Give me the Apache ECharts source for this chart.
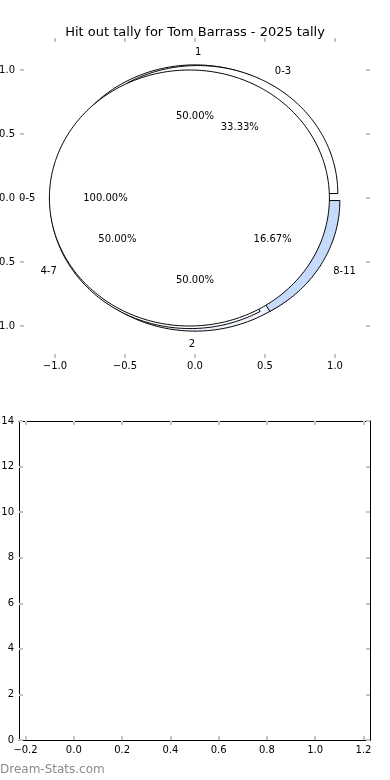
<!DOCTYPE html>
<html><head><meta charset="utf-8">
<script src="https://cdn.jsdelivr.net/npm/echarts@6/dist/echarts.min.js"></script>
<style>html,body{margin:0;padding:0;background:#fff}#c{width:390px;height:780px}</style>
</head><body><div id="c"></div>
<script>
// ---- data ----
const titleText = 'Hit out tally for Tom Barrass - 2025 tally';
const countLabels = ['1', '2'];
const countValues = [1, 1];
const seasonLabels = ['0-5'];
const seasonValues = [1];
const rangeLabels = ['0-3', '4-7', '8-11'];
const rangeValues = [2, 3, 1];
const pieTicks = [-1, -0.5, 0, 0.5, 1];
const barXTicks = [-0.2, 0, 0.2, 0.4, 0.6, 0.8, 1.0, 1.2];
const barYTicks = [0, 2, 4, 6, 8, 10, 12, 14];
const barValues = [];
const watermark = 'Dream-Stats.com';

// ---- style ----
const FONT = 'DejaVu Sans';
const EXPLODE = 0.04;
const RADIUS = 1;
const wedgeColors = { '8-11': '#c6dafc', '2': '#eef3fd' };
const TICK = '#c4c4c4';

// rings in drawing order
const rings = [
  { labels: countLabels, values: countValues },
  { labels: rangeLabels, values: rangeValues },
  { labels: seasonLabels, values: seasonValues }
];
const wedges = [];
rings.forEach((ring) => {
  const total = ring.values.reduce((a, b) => a + b, 0);
  let acc = 0;
  ring.values.forEach((v, wi) => {
    const t1 = 360 * acc / total; acc += v; const t2 = 360 * acc / total;
    wedges.push({ label: ring.labels[wi], value: v, t1: t1, t2: t2, pct: 100 * v / total });
  });
});

function renderWedge(params, api) {
  const w = wedges[params.dataIndex];
  const d2r = Math.PI / 180;
  const tm = (w.t1 + w.t2) / 2 * d2r;
  const cx = EXPLODE * Math.cos(tm), cy = EXPLODE * Math.sin(tm);
  const full = (w.t2 - w.t1) >= 360 - 1e-9;
  const pts = [];
  if (!full) pts.push(api.coord([cx, cy]));
  const n = Math.max(2, Math.ceil(w.t2 - w.t1));
  for (let k = 0; k <= n; k++) {
    const a = (w.t1 + (w.t2 - w.t1) * k / n) * d2r;
    pts.push(api.coord([cx + RADIUS * Math.cos(a), cy + RADIUS * Math.sin(a)]));
  }
  const lx = cx + 1.1 * RADIUS * Math.cos(tm), ly = cy + 1.1 * RADIUS * Math.sin(tm);
  const px = cx + 0.6 * RADIUS * Math.cos(tm), py = cy + 0.6 * RADIUS * Math.sin(tm);
  const lp = api.coord([lx, ly]), pp = api.coord([px, py]);
  return {
    type: 'group', children: [
      { type: 'polygon', shape: { points: pts }, z2: params.dataIndex,
        style: { fill: wedgeColors[w.label] || '#ffffff', stroke: '#000', lineWidth: 1 } },
      { type: 'text', x: lp[0], y: lp[1], z2: 100,
        style: { text: w.label, fill: '#000', fontSize: 10, fontFamily: FONT,
                 align: lx > 0 ? 'left' : 'right', verticalAlign: 'middle' } },
      { type: 'text', x: pp[0], y: pp[1], z2: 100,
        style: { text: w.pct.toFixed(2) + '%', fill: '#000', fontSize: 10, fontFamily: FONT,
                 align: 'center', verticalAlign: 'middle' } }
    ]
  };
}

function fmt1(v) { const s = Math.abs(v).toFixed(1); return (v < -1e-9 ? '\u2212' : '') + s; }
function fmt0(v) { return String(Math.round(v)); }

const tickStyle = (vals) => ({ show: true, inside: true, length: 4, lineStyle: { color: TICK, width: 2 }, customValues: vals });
const labelStyle = (vals, f, m) => ({ show: true, customValues: vals, formatter: f, margin: m, color: '#000', fontSize: 10, fontFamily: FONT });
const noLabel = { show: false };
const hiddenLine = { show: false, onZero: false };
const blackLine = { show: true, onZero: false, lineStyle: { color: '#000', width: 1 } };

const chart = echarts.init(document.getElementById('c'), null, { renderer: 'canvas' });
chart.setOption({
  animation: false,
  backgroundColor: '#fff',
  title: { text: titleText, left: 'center', top: 21,
    textStyle: { fontSize: 13, fontWeight: 'normal', color: '#000', fontFamily: FONT } },
  grid: [
    { left: 20, top: 38, width: 350, height: 320, containLabel: false, outerBoundsMode: 'none' },
    { left: 19, top: 421, width: 351, height: 319, containLabel: false, outerBoundsMode: 'none' }
  ],
  xAxis: [
    { type: 'value', gridIndex: 0, min: -1.25, max: 1.25, position: 'bottom',
      axisLine: hiddenLine, splitLine: { show: false },
      axisTick: tickStyle(pieTicks), axisLabel: labelStyle(pieTicks, fmt1, 3) },
    { type: 'value', gridIndex: 0, min: -1.25, max: 1.25, position: 'top',
      axisLine: hiddenLine, splitLine: { show: false },
      axisTick: tickStyle(pieTicks), axisLabel: noLabel },
    { type: 'value', gridIndex: 1, min: -0.227, max: 1.227, position: 'bottom',
      axisLine: blackLine, splitLine: { show: false },
      axisTick: tickStyle(barXTicks), axisLabel: labelStyle(barXTicks, fmt1, 5) },
    { type: 'value', gridIndex: 1, min: -0.227, max: 1.227, position: 'top',
      axisLine: blackLine, splitLine: { show: false },
      axisTick: tickStyle(barXTicks), axisLabel: noLabel }
  ],
  yAxis: [
    { type: 'value', gridIndex: 0, min: -1.25, max: 1.25, position: 'left',
      axisLine: hiddenLine, splitLine: { show: false },
      axisTick: tickStyle(pieTicks), axisLabel: labelStyle(pieTicks, fmt1, 5) },
    { type: 'value', gridIndex: 0, min: -1.25, max: 1.25, position: 'right',
      axisLine: hiddenLine, splitLine: { show: false },
      axisTick: tickStyle(pieTicks), axisLabel: noLabel },
    { type: 'value', gridIndex: 1, min: 0, max: 14, interval: 2, position: 'left',
      axisLine: blackLine, splitLine: { show: false },
      axisTick: tickStyle(barYTicks), axisLabel: labelStyle(barYTicks, fmt0, 5) },
    { type: 'value', gridIndex: 1, min: 0, max: 14, interval: 2, position: 'right',
      axisLine: blackLine, splitLine: { show: false },
      axisTick: tickStyle(barYTicks), axisLabel: noLabel }
  ],
  series: [
    { type: 'custom', xAxisIndex: 0, yAxisIndex: 0, clip: false,
      renderItem: renderWedge, data: wedges.map((w) => [w.value, w.pct]), silent: true },
    { type: 'bar', xAxisIndex: 2, yAxisIndex: 2, data: barValues }
  ],
  graphic: [
    { type: 'text', left: 0, top: 764,
      style: { text: watermark, fill: '#8a8a8a', fontSize: 12, fontFamily: FONT } }
  ]
});
</script></body></html>
